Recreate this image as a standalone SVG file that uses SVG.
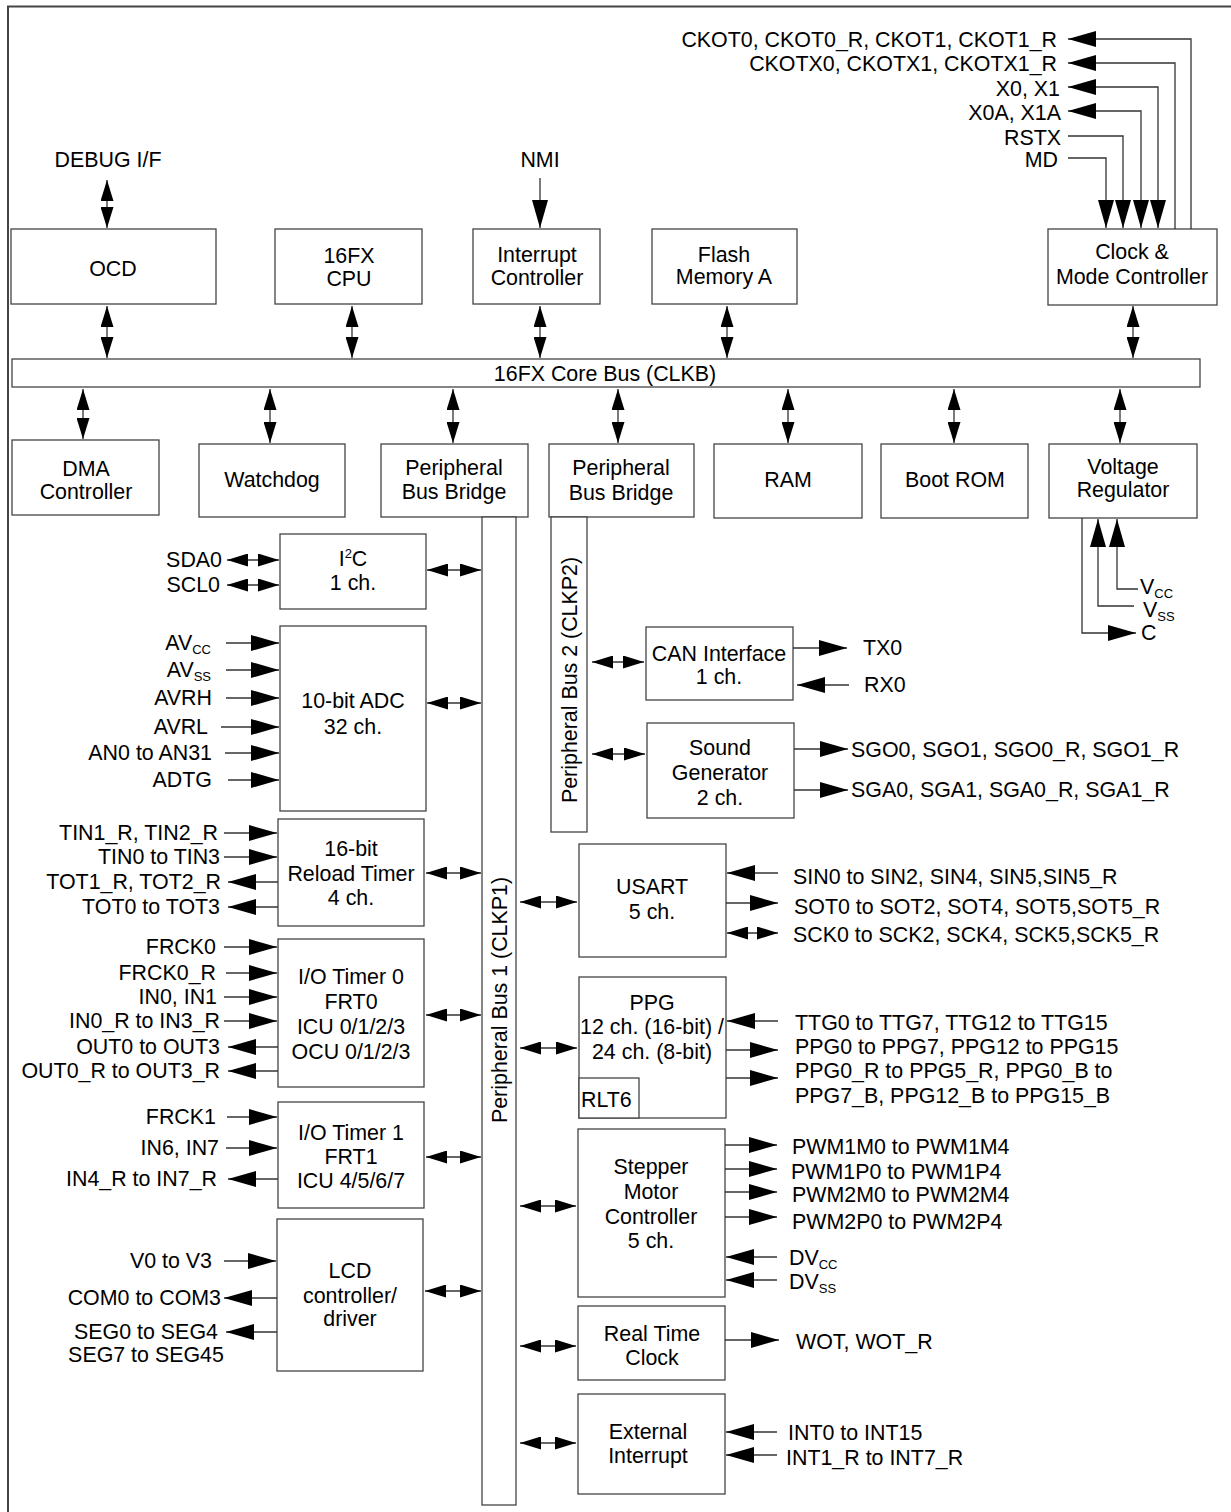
<svg xmlns="http://www.w3.org/2000/svg" width="1231" height="1512" viewBox="0 0 1231 1512">
<style>
.box{fill:#fff;stroke:#444;stroke-width:1.3}
.t{font-family:"Liberation Sans",Arial,Helvetica,sans-serif;font-size:21.4px;fill:#000}
.c{text-anchor:middle}
.e{text-anchor:end}
.w{stroke:#333;stroke-width:1.3;fill:none}
.sb{marker-start:url(#as);marker-end:url(#as)}
.be{marker-end:url(#ab)}
</style>
<defs>
<marker id="ab" viewBox="0 -8 28 16" refX="28" refY="0" markerWidth="28" markerHeight="16" markerUnits="userSpaceOnUse" orient="auto-start-reverse"><path d="M0,-8 L28,0 L0,8 z" fill="#000"/></marker>
<marker id="as" viewBox="0 -6.5 21 13" refX="21" refY="0" markerWidth="21" markerHeight="13" markerUnits="userSpaceOnUse" orient="auto-start-reverse"><path d="M0,-6.5 L21,0 L0,6.5 z" fill="#000"/></marker>
</defs>
<rect width="1231" height="1512" fill="#fff"/>
<path d="M8,1512 V6.5 H1231" fill="none" stroke="#444" stroke-width="2"/>

<g id="ocd"><rect class="box" x="11" y="229" width="205" height="75"/><text class="t c" x="113" y="276">OCD</text></g>
<g id="cpu"><rect class="box" x="275" y="229" width="147" height="75"/><text class="t c" x="349" y="263">16FX</text><text class="t c" x="349" y="286">CPU</text></g>
<g id="intc"><rect class="box" x="473" y="229" width="127" height="75"/><text class="t c" x="537" y="262">Interrupt</text><text class="t c" x="537" y="285">Controller</text></g>
<g id="flash"><rect class="box" x="652" y="229" width="145" height="75"/><text class="t c" x="724" y="262">Flash</text><text class="t c" x="724" y="284">Memory A</text></g>
<g id="clock"><rect class="box" x="1048" y="229" width="169" height="76"/><text class="t c" x="1132" y="259">Clock &amp;</text><text class="t c" x="1132" y="284">Mode Controller</text></g>

<g id="corebus"><rect class="box" x="12" y="359" width="1188" height="28"/><text class="t c" x="605" y="381">16FX Core Bus (CLKB)</text></g>

<g id="dma"><rect class="box" x="12" y="440" width="147" height="75"/><text class="t c" x="86" y="476">DMA</text><text class="t c" x="86" y="499">Controller</text></g>
<g id="watchdog"><rect class="box" x="199" y="444" width="146" height="73"/><text class="t c" x="272" y="487">Watchdog</text></g>
<g id="pbb1"><rect class="box" x="381" y="444" width="147" height="73"/><text class="t c" x="454" y="475">Peripheral</text><text class="t c" x="454" y="499">Bus Bridge</text></g>
<g id="pbb2"><rect class="box" x="549" y="444" width="145" height="73"/><text class="t c" x="621" y="475">Peripheral</text><text class="t c" x="621" y="500">Bus Bridge</text></g>
<g id="ram"><rect class="box" x="714" y="444" width="148" height="74"/><text class="t c" x="788" y="487">RAM</text></g>
<g id="bootrom"><rect class="box" x="881" y="444" width="147" height="74"/><text class="t c" x="955" y="487">Boot ROM</text></g>
<g id="vreg"><rect class="box" x="1049" y="444" width="148" height="74"/><text class="t c" x="1123" y="474">Voltage</text><text class="t c" x="1123" y="497">Regulator</text></g>

<g id="pbus1"><rect class="box" x="482" y="517" width="34" height="988"/><text class="t c" transform="translate(506.5,1000) rotate(-90)">Peripheral Bus 1 (CLKP1)</text></g>
<g id="pbus2"><rect class="box" x="551" y="517" width="36" height="315"/><text class="t c" transform="translate(577,680) rotate(-90)">Peripheral Bus 2 (CLKP2)</text></g>

<g id="i2c"><rect class="box" x="280" y="534" width="146" height="75"/><text class="t c" x="353" y="566">I<tspan font-size="13" dy="-8">2</tspan><tspan dy="8">C</tspan></text><text class="t c" x="353" y="590">1 ch.</text></g>
<g id="adc"><rect class="box" x="280" y="626" width="146" height="185"/><text class="t c" x="353" y="708">10-bit ADC</text><text class="t c" x="353" y="734">32 ch.</text></g>
<g id="reload"><rect class="box" x="278" y="819" width="146" height="107"/><text class="t c" x="351" y="856">16-bit</text><text class="t c" x="351" y="881">Reload Timer</text><text class="t c" x="351" y="905">4 ch.</text></g>
<g id="iot0"><rect class="box" x="278" y="939" width="146" height="148"/><text class="t c" x="351" y="984">I/O Timer 0</text><text class="t c" x="351" y="1009">FRT0</text><text class="t c" x="351" y="1034">ICU 0/1/2/3</text><text class="t c" x="351" y="1059">OCU 0/1/2/3</text></g>
<g id="iot1"><rect class="box" x="278" y="1102" width="146" height="106"/><text class="t c" x="351" y="1140">I/O Timer 1</text><text class="t c" x="351" y="1164">FRT1</text><text class="t c" x="351" y="1188">ICU 4/5/6/7</text></g>
<g id="lcd"><rect class="box" x="277" y="1219" width="146" height="152"/><text class="t c" x="350" y="1278">LCD</text><text class="t c" x="350" y="1303">controller/</text><text class="t c" x="350" y="1326">driver</text></g>

<g id="can"><rect class="box" x="646" y="627" width="147" height="73"/><text class="t c" x="719" y="661">CAN Interface</text><text class="t c" x="719" y="684">1 ch.</text></g>
<g id="sound"><rect class="box" x="647" y="723" width="147" height="95"/><text class="t c" x="720" y="755">Sound</text><text class="t c" x="720" y="780">Generator</text><text class="t c" x="720" y="805">2 ch.</text></g>
<g id="usart"><rect class="box" x="579" y="844" width="147" height="113"/><text class="t c" x="652" y="894">USART</text><text class="t c" x="652" y="919">5 ch.</text></g>
<g id="ppg"><rect class="box" x="579" y="977" width="147" height="141"/><text class="t c" x="652" y="1010">PPG</text><text class="t c" x="652" y="1034">12 ch. (16-bit) /</text><text class="t c" x="652" y="1059">24 ch. (8-bit)</text><rect class="box" x="579" y="1078" width="60" height="40"/><text class="t" x="581" y="1107">RLT6</text></g>
<g id="stepper"><rect class="box" x="578" y="1129" width="147" height="168"/><text class="t c" x="651" y="1174">Stepper</text><text class="t c" x="651" y="1199">Motor</text><text class="t c" x="651" y="1224">Controller</text><text class="t c" x="651" y="1248">5 ch.</text></g>
<g id="rtc"><rect class="box" x="578" y="1306" width="147" height="74"/><text class="t c" x="652" y="1341">Real Time</text><text class="t c" x="652" y="1365">Clock</text></g>
<g id="extint"><rect class="box" x="578" y="1394" width="147" height="100"/><text class="t c" x="648" y="1439">External</text><text class="t c" x="648" y="1463">Interrupt</text></g>

<g id="connectors">
<line class="w sb" x1="107" y1="180" x2="107" y2="228"/>
<line class="w be" x1="540" y1="178" x2="540" y2="228"/>
<line class="w sb" x1="107" y1="306" x2="107" y2="358"/>
<line class="w sb" x1="352" y1="306" x2="352" y2="358"/>
<line class="w sb" x1="540" y1="306" x2="540" y2="358"/>
<line class="w sb" x1="727" y1="306" x2="727" y2="358"/>
<line class="w sb" x1="1133" y1="306" x2="1133" y2="358"/>
<line class="w sb" x1="83" y1="389" x2="83" y2="439"/>
<line class="w sb" x1="270" y1="389" x2="270" y2="443"/>
<line class="w sb" x1="453" y1="389" x2="453" y2="443"/>
<line class="w sb" x1="618" y1="389" x2="618" y2="443"/>
<line class="w sb" x1="788" y1="389" x2="788" y2="443"/>
<line class="w sb" x1="954" y1="389" x2="954" y2="443"/>
<line class="w sb" x1="1120" y1="389" x2="1120" y2="443"/>
<path class="w" d="M1068,39 H1191 V229" marker-start="url(#ab)"/>
<path class="w" d="M1068,63 H1175 V229" marker-start="url(#ab)"/>
<path class="w" d="M1068,87 H1158 V228" marker-start="url(#ab)" marker-end="url(#ab)"/>
<path class="w" d="M1068,111 H1141 V228" marker-start="url(#ab)" marker-end="url(#ab)"/>
<path class="w" d="M1068,136 H1123 V228" marker-end="url(#ab)"/>
<path class="w" d="M1068,158 H1106 V228" marker-end="url(#ab)"/>
<path class="w be" d="M1082,518 V633 H1136"/>
<path class="w be" d="M1134,606 H1098 V519"/>
<path class="w be" d="M1138,589 H1117 V519"/>
<line class="w sb" x1="427" y1="570" x2="481" y2="570"/>
<line class="w sb" x1="427" y1="703" x2="481" y2="703"/>
<line class="w sb" x1="426" y1="873" x2="481" y2="873"/>
<line class="w sb" x1="426" y1="1015" x2="481" y2="1015"/>
<line class="w sb" x1="426" y1="1157" x2="481" y2="1157"/>
<line class="w sb" x1="425" y1="1291" x2="481" y2="1291"/>
<line class="w sb" x1="520" y1="902" x2="577" y2="902"/>
<line class="w sb" x1="520" y1="1048" x2="577" y2="1048"/>
<line class="w sb" x1="520" y1="1206" x2="576" y2="1206"/>
<line class="w sb" x1="520" y1="1346" x2="576" y2="1346"/>
<line class="w sb" x1="520" y1="1443" x2="576" y2="1443"/>
<line class="w sb" x1="592" y1="662" x2="644" y2="662"/>
<line class="w sb" x1="592" y1="754" x2="645" y2="754"/>
<line class="w sb" x1="227" y1="560" x2="279" y2="560"/>
<line class="w sb" x1="227" y1="585" x2="279" y2="585"/>
<line class="w be" x1="226" y1="643" x2="279" y2="643"/>
<line class="w be" x1="226" y1="670" x2="279" y2="670"/>
<line class="w be" x1="226" y1="698" x2="279" y2="698"/>
<line class="w be" x1="221" y1="727" x2="279" y2="727"/>
<line class="w be" x1="225" y1="753" x2="279" y2="753"/>
<line class="w be" x1="228" y1="780" x2="279" y2="780"/>
<line class="w be" x1="224" y1="833" x2="277" y2="833"/>
<line class="w be" x1="224" y1="857" x2="277" y2="857"/>
<line class="w be" x1="278" y1="882" x2="228" y2="882"/>
<line class="w be" x1="278" y1="907" x2="228" y2="907"/>
<line class="w be" x1="224" y1="947" x2="277" y2="947"/>
<line class="w be" x1="226" y1="973" x2="277" y2="973"/>
<line class="w be" x1="224" y1="997" x2="277" y2="997"/>
<line class="w be" x1="224" y1="1021" x2="277" y2="1021"/>
<line class="w be" x1="278" y1="1047" x2="228" y2="1047"/>
<line class="w be" x1="278" y1="1071" x2="228" y2="1071"/>
<line class="w be" x1="227" y1="1117" x2="277" y2="1117"/>
<line class="w be" x1="226" y1="1148" x2="277" y2="1148"/>
<line class="w be" x1="278" y1="1179" x2="228" y2="1179"/>
<line class="w be" x1="224" y1="1261" x2="276" y2="1261"/>
<line class="w be" x1="277" y1="1298" x2="224" y2="1298"/>
<line class="w be" x1="277" y1="1332" x2="226" y2="1332"/>
<line class="w be" x1="793" y1="648" x2="847" y2="648"/>
<line class="w be" x1="849" y1="685" x2="797" y2="685"/>
<line class="w be" x1="794" y1="749" x2="848" y2="749"/>
<line class="w be" x1="794" y1="790" x2="848" y2="790"/>
<line class="w be" x1="778" y1="873" x2="727" y2="873"/>
<line class="w be" x1="726" y1="903" x2="778" y2="903"/>
<line class="w sb" x1="727" y1="933" x2="778" y2="933"/>
<line class="w be" x1="778" y1="1021" x2="727" y2="1021"/>
<line class="w be" x1="726" y1="1050" x2="778" y2="1050"/>
<line class="w be" x1="726" y1="1078" x2="778" y2="1078"/>
<line class="w be" x1="725" y1="1145" x2="777" y2="1145"/>
<line class="w be" x1="725" y1="1169" x2="777" y2="1169"/>
<line class="w be" x1="725" y1="1192" x2="777" y2="1192"/>
<line class="w be" x1="725" y1="1217" x2="777" y2="1217"/>
<line class="w be" x1="777" y1="1257" x2="726" y2="1257"/>
<line class="w be" x1="777" y1="1280" x2="726" y2="1280"/>
<line class="w be" x1="725" y1="1340" x2="779" y2="1340"/>
<line class="w be" x1="777" y1="1432" x2="726" y2="1432"/>
<line class="w be" x1="777" y1="1455" x2="726" y2="1455"/>
</g>

<g id="pins-top">
<text class="t c" x="108" y="167">DEBUG I/F</text>
<text class="t c" x="540" y="167">NMI</text>
<text class="t e" x="1057" y="47">CKOT0, CKOT0_R, CKOT1, CKOT1_R</text>
<text class="t e" x="1057" y="71">CKOTX0, CKOTX1, CKOTX1_R</text>
<text class="t e" x="1060" y="96">X0, X1</text>
<text class="t e" x="1061" y="120">X0A, X1A</text>
<text class="t e" x="1061" y="145">RSTX</text>
<text class="t e" x="1058" y="167">MD</text>
<text class="t" x="1140" y="594">V<tspan font-size="13" dy="4">CC</tspan></text>
<text class="t" x="1143" y="617">V<tspan font-size="13" dy="4">SS</tspan></text>
<text class="t" x="1141" y="640">C</text>
</g>
<g id="pins-left">
<text class="t e" x="222" y="567">SDA0</text>
<text class="t e" x="220" y="592">SCL0</text>
<text class="t e" x="211" y="650">AV<tspan font-size="13" dy="4">CC</tspan></text>
<text class="t e" x="211" y="677">AV<tspan font-size="13" dy="4">SS</tspan></text>
<text class="t e" x="212" y="705">AVRH</text>
<text class="t e" x="208" y="734">AVRL</text>
<text class="t e" x="212" y="760">AN0 to AN31</text>
<text class="t e" x="212" y="787">ADTG</text>
<text class="t e" x="218" y="840">TIN1_R, TIN2_R</text>
<text class="t e" x="220" y="864">TIN0 to TIN3</text>
<text class="t e" x="221" y="889">TOT1_R, TOT2_R</text>
<text class="t e" x="220" y="914">TOT0 to TOT3</text>
<text class="t e" x="216" y="954">FRCK0</text>
<text class="t e" x="216" y="980">FRCK0_R</text>
<text class="t e" x="217" y="1004">IN0, IN1</text>
<text class="t e" x="220" y="1028">IN0_R to IN3_R</text>
<text class="t e" x="220" y="1054">OUT0 to OUT3</text>
<text class="t e" x="220" y="1078">OUT0_R to OUT3_R</text>
<text class="t e" x="216" y="1124">FRCK1</text>
<text class="t e" x="219" y="1155">IN6, IN7</text>
<text class="t e" x="217" y="1186">IN4_R to IN7_R</text>
<text class="t e" x="212" y="1268">V0 to V3</text>
<text class="t e" x="221" y="1305">COM0 to COM3</text>
<text class="t c" x="146" y="1339">SEG0 to SEG4</text>
<text class="t c" x="146" y="1362">SEG7 to SEG45</text>
</g>
<g id="pins-right">
<text class="t" x="863" y="655">TX0</text>
<text class="t" x="864" y="692">RX0</text>
<text class="t" x="851" y="757">SGO0, SGO1, SGO0_R, SGO1_R</text>
<text class="t" x="851" y="797">SGA0, SGA1, SGA0_R, SGA1_R</text>
<text class="t" x="793" y="884">SIN0 to SIN2, SIN4, SIN5,SIN5_R</text>
<text class="t" x="794" y="914">SOT0 to SOT2, SOT4, SOT5,SOT5_R</text>
<text class="t" x="793" y="942">SCK0 to SCK2, SCK4, SCK5,SCK5_R</text>
<text class="t" x="795" y="1030">TTG0 to TTG7, TTG12 to TTG15</text>
<text class="t" x="795" y="1054">PPG0 to PPG7, PPG12 to PPG15</text>
<text class="t" x="795" y="1078">PPG0_R to PPG5_R, PPG0_B to</text>
<text class="t" x="795" y="1103">PPG7_B, PPG12_B to PPG15_B</text>
<text class="t" x="792" y="1154">PWM1M0 to PWM1M4</text>
<text class="t" x="791" y="1179">PWM1P0 to PWM1P4</text>
<text class="t" x="792" y="1202">PWM2M0 to PWM2M4</text>
<text class="t" x="792" y="1229">PWM2P0 to PWM2P4</text>
<text class="t" x="789" y="1265">DV<tspan font-size="13" dy="4">CC</tspan></text>
<text class="t" x="789" y="1289">DV<tspan font-size="13" dy="4">SS</tspan></text>
<text class="t" x="796" y="1349">WOT, WOT_R</text>
<text class="t" x="788" y="1440">INT0 to INT15</text>
<text class="t" x="786" y="1465">INT1_R to INT7_R</text>
</g>
</svg>
